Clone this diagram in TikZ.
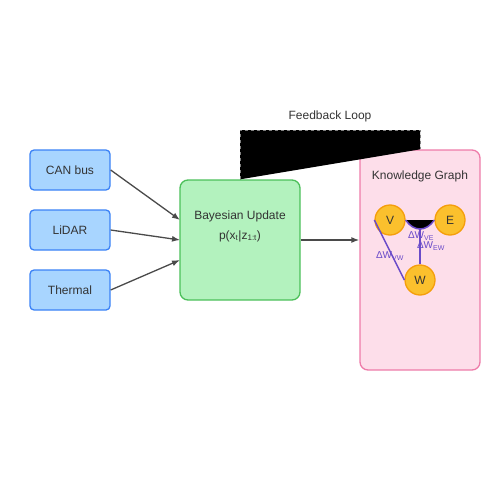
\documentclass[tikz,border=0pt]{standalone}
\usepackage{fontspec}
\setmainfont{Liberation Sans}
\usepackage{tikz}
\usetikzlibrary{arrows.meta,calc}
\definecolor{sensorfill}{HTML}{A8D5FF}
\definecolor{sensordraw}{HTML}{3B82F6}
\definecolor{fusionfill}{HTML}{B3F2BE}
\definecolor{fusiondraw}{HTML}{4CC05A}
\definecolor{graphfill}{HTML}{FDDEEA}
\definecolor{graphdraw}{HTML}{EE7BA9}
\definecolor{kgfill}{HTML}{FBC02D}
\definecolor{kgdraw}{HTML}{F59E0B}
\definecolor{edgecol}{HTML}{6A4BC9}
\definecolor{textcol}{HTML}{333333}
\definecolor{arrowcol}{HTML}{4A4A4A}
\tikzstyle{sensorbox} = [draw=sensordraw, fill=sensorfill, line width=1.3pt,
    rectangle, rounded corners=4pt, minimum width=80pt, minimum height=40pt,
    text=textcol, font=\fontsize{12}{14}\selectfont]
\tikzstyle{fusionbox} = [draw=fusiondraw, fill=fusionfill, line width=1.3pt,
    rectangle, rounded corners=8pt, minimum width=120pt, minimum height=120pt]
\tikzstyle{graphbox} = [draw=graphdraw, fill=graphfill, line width=1.3pt,
    rectangle, rounded corners=8pt, minimum width=120pt, minimum height=220pt]
\tikzstyle{kgnode} = [draw=kgdraw, fill=kgfill, line width=1.3pt, circle,
    minimum size=30pt, inner sep=0pt, text=textcol, font=\fontsize{12}{14}\selectfont]
\tikzstyle{flow} = [draw=arrowcol, line width=1.3pt, -{Latex[length=8pt,width=6pt]}]
\tikzstyle{kgedge} = [draw=edgecol, line width=1.5pt]
\tikzstyle{kglabel} = [text=edgecol, font=\fontsize{10}{12}\selectfont, inner sep=1pt]
\tikzstyle{plain} = [text=textcol, font=\fontsize{12}{14}\selectfont]

\begin{document}
\begin{tikzpicture}[x=1pt, y=-1pt]
    \useasboundingbox (0,0) rectangle (500,500);
    % sensors
    \node [sensorbox] (can) at (70,170) {CAN bus};
    \node [sensorbox] (lidar) at (70,230) {LiDAR};
    \node [sensorbox] (thermal) at (70,290) {Thermal};
    % fusion and graph
    \node [fusionbox] (fusion) at (240,240) {};
    \node [plain] at (240,216) {Bayesian Update};
    \node [plain] at (240,236) {p(x\textsubscript{t}|z\textsubscript{1:t})};
    \node [graphbox] (graph) at (420,260) {};
    \node [plain] at (420,176) {Knowledge Graph};
    % feedback loop
    \coordinate (looptop) at (330,130);
    \draw [draw=gray, line width=1pt, dashed, fill=black] (fusion.north) -- (fusion.north |- looptop) -| (graph.north);
    \node [plain] at (330,116) {Feedback Loop};
    % arrows
    \draw [flow] (can.east) -- (180,220);
    \draw [flow] (lidar.east) -- (180,240);
    \draw [flow] (thermal.east) -- (180,260);
    \draw [flow] (fusion.east) -- (fusion.east -| graph.west);
    % graph nodes
    \node [kgnode] (V) at (390,220) {V};
    \node [kgnode] (E) at (450,220) {E};
    \node [kgnode] (W) at (420,280) {W};
    \draw [kgedge] ($(V)!0.5!(E)$) -- (W.north);
    \draw [kgedge] (V.west) -- (W.west);
    \draw [kgedge, fill=black] (V.east) .. controls +(8,12) and +(-8,12) .. (E.west);
    \node [kglabel] at (421,236) {ΔW\textsubscript{VE}};
    \node [kglabel] at (431,246) {ΔW\textsubscript{EW}};
    \node [kglabel] at (390,256) {ΔW\textsubscript{VW}};
\end{tikzpicture}
\end{document}
